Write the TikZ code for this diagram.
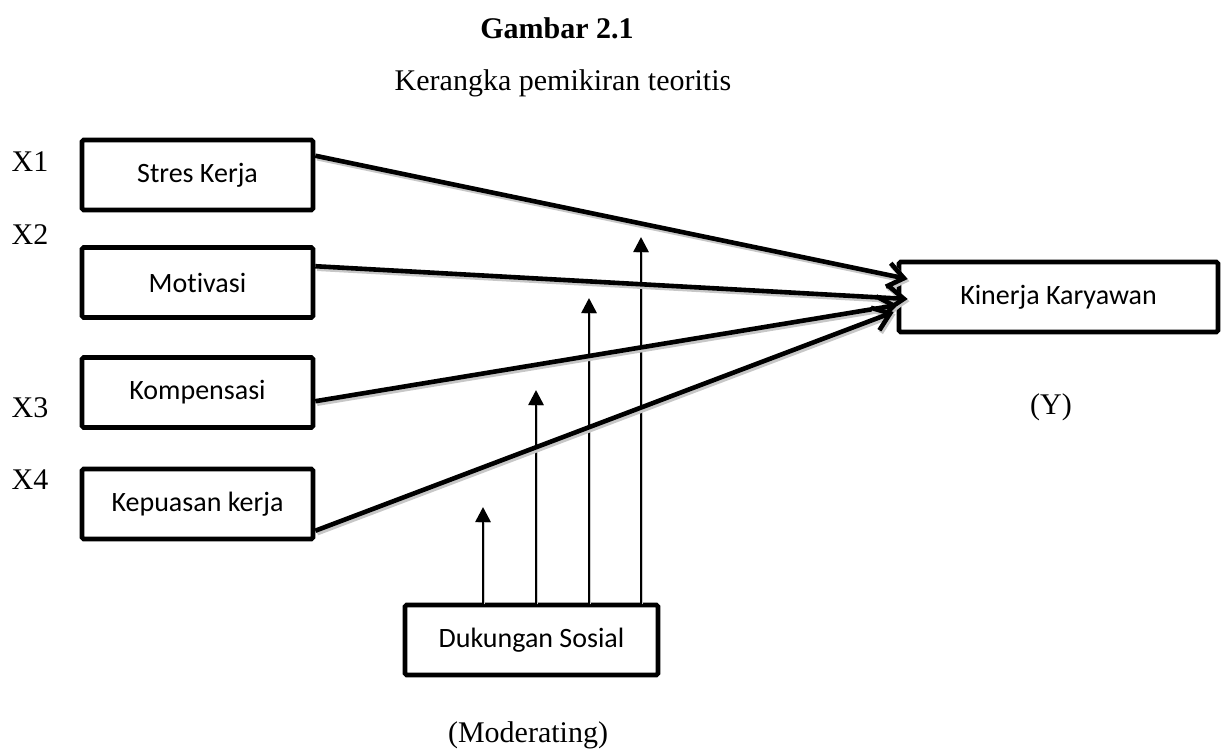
\documentclass[tikz,border=0pt]{standalone}
\usepackage{fontspec}
\setmainfont{Liberation Serif}
\newfontfamily\calibri[Ligatures=NoCommon]{Carlito}
\usetikzlibrary{arrows.meta,calc}
\begin{document}
\begin{tikzpicture}[x=0.5pt,y=-0.5pt,
  box/.style={draw, line width=2.3pt, rounded corners=0.8pt, minimum width=115.5pt, minimum height=35pt, inner sep=0pt, font=\calibri\fontsize{14}{16}\selectfont, fill=white},
  lab/.style={font=\fontsize{15}{18}\selectfont, inner sep=0pt},
  shade/.style={preaction={draw=black!22, line width=2.6pt, transform canvas={xshift=0.9pt,yshift=-1.1pt}}},
  link/.style={line width=2.3pt, shade, -{Straight Barb[length=8pt,width=12pt]}},
  mod/.style={line width=1.3pt, preaction={draw=black!20, transform canvas={xshift=0.8pt,yshift=-0.8pt}}, -{Triangle[length=7.5pt,width=7.5pt]}}]
\useasboundingbox (0,0) rectangle (1224,751);
% titles
\node[lab, font=\fontsize{15}{18}\selectfont\bfseries, anchor=base] (t1) at (557,38) {Gambar 2.1};
\node[lab, anchor=base] (t2) at (563,90) {Kerangka pemikiran teoritis};
% left labels
\node[lab] (x1) at (30,162) {X1};
\node[lab] (x2) at (30,235) {X2};
\node[lab] (x3) at (30,408) {X3};
\node[lab] (x4) at (30,480) {X4};
% boxes
\node[box] (s1) at (197.5,175) {Stres Kerja};
\node[box] (s2) at (197.5,282.5) {Motivasi};
\node[box, text depth=3pt] (s3) at (197.5,392.5) {Kompensasi};
\node[box] (s4) at (197.5,504) {Kepuasan kerja};
\node[box, minimum width=159.5pt] (k) at (1058.5,297) {Kinerja Karyawan};
\node[box, minimum width=126.5pt] (d) at (531.5,640) {Dukungan Sosial};
\node[lab] (ylab) at (1051,407) {(Y)};
\node[lab, anchor=base] (mlab) at (528,742) {(Moderating)};
% arrow tips at Kinerja
\coordinate (tip1) at ([xshift=5.5pt,yshift=9pt]k.west);
\coordinate (tip2) at ([xshift=5.5pt,yshift=-1pt]k.west);
\coordinate (tip3) at ([xshift=0.5pt,yshift=-4pt]k.west);
\coordinate (tip4) at ([xshift=-1.5pt,yshift=-7.5pt]k.west);
% moderating arrows
\coordinate (m1) at (483,507);
\coordinate (m2) at (536,390);
\coordinate (m3) at (589,298);
\coordinate (m4) at (641,237);
\draw[mod] (m1 |- d.north) -- (m1);
\draw[mod] (m2 |- d.north) -- (m2);
\draw[mod] (m3 |- d.north) -- (m3);
\draw[mod] (m4 |- d.north) -- (m4);
\draw[link] ([yshift=-9pt]s1.north east) -- (tip1);
\draw[link] ([yshift=-10.5pt]s2.north east) -- (tip2);
\draw[link] ([yshift=-23pt]s3.north east) -- (tip3);
\draw[link] ([yshift=-32pt]s4.north east) -- (tip4);
\end{tikzpicture}
\end{document}
